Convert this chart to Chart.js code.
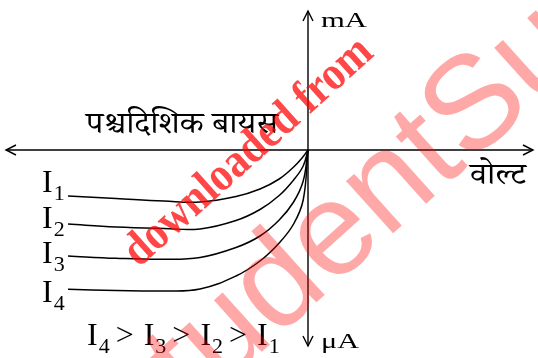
<!DOCTYPE html>
<html>
<head>
<meta charset="utf-8">
<script src="https://cdn.jsdelivr.net/npm/chart.js@4.4.1/dist/chart.umd.min.js"></script>
<style>
  html, body { margin: 0; padding: 0; background: #fff; }
  #wrap { width: 538px; height: 358px; position: relative; }
</style>
</head>
<body>
<div id="wrap"><canvas id="chart"></canvas></div>
<script>
// reverse-bias curves of a photodiode (arbitrary units)
var VOLTS = [-10, -8, -6, -4.5, -3, -2, -1.2, -0.6, -0.2, 0];
var CURRENT_I1 = [-4.6, -4.85, -5.1, -5.2, -4.65, -3.9, -2.9, -1.7, -0.65, 0];
var CURRENT_I2 = [-7.4, -7.7, -7.85, -7.9, -7.05, -5.95, -4.55, -3.0, -1.6, 0];
var CURRENT_I3 = [-10.6, -10.83, -10.93, -10.75, -9.75, -8.6, -7.0, -5.2, -3.1, 0];
var CURRENT_I4 = [-13.93, -14.05, -14.1, -13.9, -12.6, -11.1, -9.3, -7.4, -5.0, 0];
var SERIES = ['1', '2', '3', '4'];
var AXIS_TEXT = { up: 'mA', down: '\u03bcA', right: '\u0935\u094b\u0932\u094d\u091f', reverse: '\u092a\u0936\u094d\u091a\u0926\u093f\u0936\u093f\u0915 \u092c\u093e\u092f\u0938' };
var WATERMARK = ['downloaded from', 'StudentSuvidha'];

var SERIF = '"Liberation Serif", "DejaVu Serif", serif';
var DEVA = '"Noto Serif Devanagari", "Noto Sans Devanagari", "Lohit Devanagari", "FreeSerif", "Noto Sans", sans-serif';

function pts(ys) {
  return VOLTS.map(function (v, i) { return { x: v, y: ys[i] }; });
}

// draw text squeezed/stretched to a given width
function fitText(ctx, text, x, y, font, width) {
  ctx.save();
  ctx.font = font;
  var w = ctx.measureText(text).width;
  ctx.translate(x, y);
  ctx.scale(width / w, 1);
  ctx.fillText(text, 0, 0);
  ctx.restore();
}

function subbed(ctx, x, base, sub, size) {
  ctx.font = size + 'px ' + SERIF;
  ctx.fillText('I', x, base);
  var w = ctx.measureText('I').width;
  ctx.font = Math.round(size * 0.7) + 'px ' + SERIF;
  ctx.fillText(sub, x + w + 1, base + 8);
  return x + w + 1 + ctx.measureText(sub).width;
}

function arrow(ctx, tx, ty, dx, dy) {
  // open chevron, tip at (tx,ty), pointing along (dx,dy)
  var L = 10, H = 5;
  ctx.beginPath();
  ctx.moveTo(tx - dx * L - dy * H, ty - dy * L + dx * H);
  ctx.lineTo(tx, ty);
  ctx.lineTo(tx - dx * L + dy * H, ty - dy * L - dx * H);
  ctx.stroke();
}

var axesPlugin = {
  id: 'axesPlugin',
  beforeDatasetsDraw: function (chart) {
    var ctx = chart.ctx;
    var ox = chart.scales.x.getPixelForValue(0);
    var oy = chart.scales.y.getPixelForValue(0);
    ctx.save();
    ctx.strokeStyle = '#000';
    ctx.lineWidth = 1.4;
    ctx.beginPath();
    ctx.moveTo(6, oy); ctx.lineTo(533, oy);
    ctx.moveTo(ox, 11); ctx.lineTo(ox, 346);
    ctx.stroke();
    arrow(ctx, 6, oy, -1, 0);
    arrow(ctx, 533, oy, 1, 0);
    arrow(ctx, ox, 11, 0, -1);
    arrow(ctx, ox, 346, 0, 1);

    ctx.fillStyle = '#000';
    ctx.textBaseline = 'alphabetic';
    fitText(ctx, AXIS_TEXT.up, ox + 13, 27, '22px ' + SERIF, 46);
    fitText(ctx, AXIS_TEXT.down, ox + 13, 348, '22px ' + SERIF, 38);
    fitText(ctx, AXIS_TEXT.right, 470, 184, '31px ' + DEVA, 56);
    fitText(ctx, AXIS_TEXT.reverse, 86, 133, '31px ' + DEVA, 192);

    var labelY = [192, 228, 263, 302];
    SERIES.forEach(function (s, i) { subbed(ctx, 42, labelY[i], s, 32); });

    var x = 87;
    SERIES.slice().reverse().forEach(function (s, i) {
      x = subbed(ctx, x, 345, s, 32);
      if (i < SERIES.length - 1) {
        ctx.font = '32px ' + SERIF;
        ctx.fillText('>', x + 6, 345);
        x += 6 + ctx.measureText('>').width + 10;
      }
    });
    ctx.restore();
  },
  afterDraw: function (chart) {
    var ctx = chart.ctx;
    ctx.save();
    // big pink mark
    ctx.translate(128, 472);
    ctx.rotate(-42 * Math.PI / 180);
    ctx.font = '133px "Liberation Sans", Arial, sans-serif';
    ctx.fillStyle = 'rgba(255,0,0,0.34)';
    ctx.fillText(WATERMARK[1], 0, 0);
    ctx.restore();

    ctx.save();
    ctx.translate(139, 268);
    ctx.rotate(-42 * Math.PI / 180);
    ctx.font = 'bold 48px ' + SERIF;
    var w = ctx.measureText(WATERMARK[0]).width;
    ctx.scale(318 / w, 1);
    ctx.fillStyle = 'rgba(255,0,0,0.72)';
    ctx.fillText(WATERMARK[0], 0, 0);
    ctx.restore();
  }
};

var lineStyle = { borderColor: '#000', borderWidth: 1.5, pointRadius: 0, fill: false, tension: 0.4 };

new Chart(document.getElementById('chart'), {
  type: 'line',
  data: {
    datasets: [CURRENT_I1, CURRENT_I2, CURRENT_I3, CURRENT_I4].map(function (ys, i) {
      return Object.assign({ label: 'I' + SERIES[i], data: pts(ys) }, lineStyle);
    })
  },
  options: {
    responsive: true,
    maintainAspectRatio: false,
    animation: false,
    layout: { padding: 0 },
    plugins: { legend: { display: false }, tooltip: { enabled: false } },
    scales: {
      x: { type: 'linear', min: -308 / 24, max: 230 / 24, display: false },
      y: { type: 'linear', min: -20.8, max: 15, display: false }
    }
  },
  plugins: [axesPlugin]
});
</script>
</body>
</html>
